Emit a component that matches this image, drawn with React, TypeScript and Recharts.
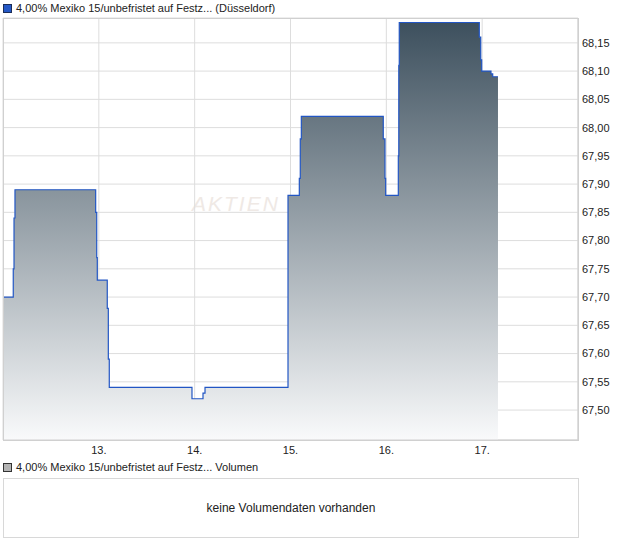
import React from "react";
import { AreaChart, Area, XAxis, YAxis, CartesianGrid } from "recharts";

// time in days (12.0 = start of the 12th), price in EUR
const times = [
  12.0, 12.107, 12.115, 12.125, 12.967, 12.978, 12.984, 13.088, 13.099, 13.109,
  13.972, 14.087, 14.108, 14.974, 15.092, 15.102, 15.113, 15.968, 15.986, 15.993,
  16.125, 16.13, 16.135, 16.97, 16.985, 16.995, 17.092, 17.11, 17.165,
];
const prices = [
  67.7, 67.75, 67.84, 67.89, 67.85, 67.77, 67.73, 67.68, 67.59, 67.54,
  67.52, 67.53, 67.54, 67.88, 67.91, 67.98, 68.02, 67.98, 67.91, 67.88,
  67.95, 68.11, 68.186, 68.16, 68.12, 68.1, 68.095, 68.09, 68.09,
];
const dayTicks = [13, 14, 15, 16, 17];
const priceTicks = [
  67.5, 67.55, 67.6, 67.65, 67.7, 67.75, 67.8, 67.85, 67.9, 67.95, 68.0, 68.05, 68.1, 68.15,
];
const title = "4,00% Mexiko 15/unbefristet auf Festz... (Düsseldorf)";
const volumeTitle = "4,00% Mexiko 15/unbefristet auf Festz... Volumen";

const data = times.map((t, i) => ({ t, price: prices[i] }));

const font = '"Liberation Sans", Arial, sans-serif';
const fmtPrice = (v: number) => v.toFixed(2).replace(".", ",");

export default function App() {
  return (
    <div
      style={{
        position: "absolute",
        left: 0,
        top: 0,
        width: 620,
        height: 546,
        background: "#fff",
        fontFamily: font,
        color: "#222",
      }}
    >
      {/* top legend */}
      <div style={{ position: "absolute", left: 3, top: 2, display: "flex", alignItems: "center", fontSize: 11 }}>
        <span
          style={{
            display: "inline-block",
            width: 7,
            height: 7,
            background: "#2458c6",
            border: "1px solid #1b2d58",
            marginRight: 4,
          }}
        />
        {title}
      </div>

      <div
        style={{
          position: "absolute",
          left: 192,
          top: 192,
          fontSize: 21,
          fontStyle: "italic",
          letterSpacing: 2,
          color: "#efe9e5",
        }}
      >
        AKTIEN
      </div>

      <AreaChart
        width={620}
        height={460}
        data={data}
        margin={{ top: 18, right: 0, left: 3, bottom: 0 }}
        style={{ position: "absolute", left: 0, top: 0 }}
      >
        <defs>
          <linearGradient id="fillGrad" gradientUnits="userSpaceOnUse" x1="0" y1="18" x2="0" y2="440">
            <stop offset="0%" stopColor="#3b4e5c" />
            <stop offset="100%" stopColor="#f9fafb" />
          </linearGradient>
        </defs>
        <CartesianGrid stroke="#dddddd" strokeWidth={1} />
        <XAxis
          dataKey="t"
          type="number"
          domain={[12, 18]}
          ticks={dayTicks}
          tickFormatter={(v: number) => `${v}.`}
          tickLine={false}
          axisLine={{ stroke: "#d0d0d0" }}
          tickSize={4}
          tickMargin={2}
          height={20}
          tick={{ fontSize: 11, fill: "#222", fontFamily: font }}
        />
        <YAxis
          orientation="right"
          type="number"
          domain={[67.447, 68.194]}
          ticks={priceTicks}
          tickFormatter={fmtPrice}
          tickLine={false}
          axisLine={{ stroke: "#d0d0d0" }}
          tickSize={2}
          tickMargin={2}
          width={42}
          tick={{ fontSize: 11, fill: "#222", fontFamily: font }}
        />
        <Area
          type="stepAfter"
          dataKey="price"
          stroke="#2256c4"
          strokeWidth={1.2}
          fill="url(#fillGrad)"
          fillOpacity={1}
          isAnimationActive={false}
          dot={false}
          activeDot={false}
        />
      </AreaChart>

      {/* plot frame */}
      <div
        style={{
          position: "absolute",
          left: 3,
          top: 18,
          width: 574,
          height: 421,
          border: "1px solid #d0d0d0",
          pointerEvents: "none",
        }}
      />

      {/* volume legend */}
      <div style={{ position: "absolute", left: 3, top: 461, display: "flex", alignItems: "center", fontSize: 11 }}>
        <span
          style={{
            display: "inline-block",
            width: 7,
            height: 7,
            background: "#b4b4b4",
            border: "1px solid #333",
            marginRight: 4,
          }}
        />
        {volumeTitle}
      </div>

      <div
        style={{
          position: "absolute",
          left: 3,
          top: 478,
          width: 574,
          height: 58,
          border: "1px solid #d8d8d8",
          display: "flex",
          alignItems: "center",
          justifyContent: "center",
          fontSize: 12,
        }}
      >
        keine Volumendaten vorhanden
      </div>
    </div>
  );
}
